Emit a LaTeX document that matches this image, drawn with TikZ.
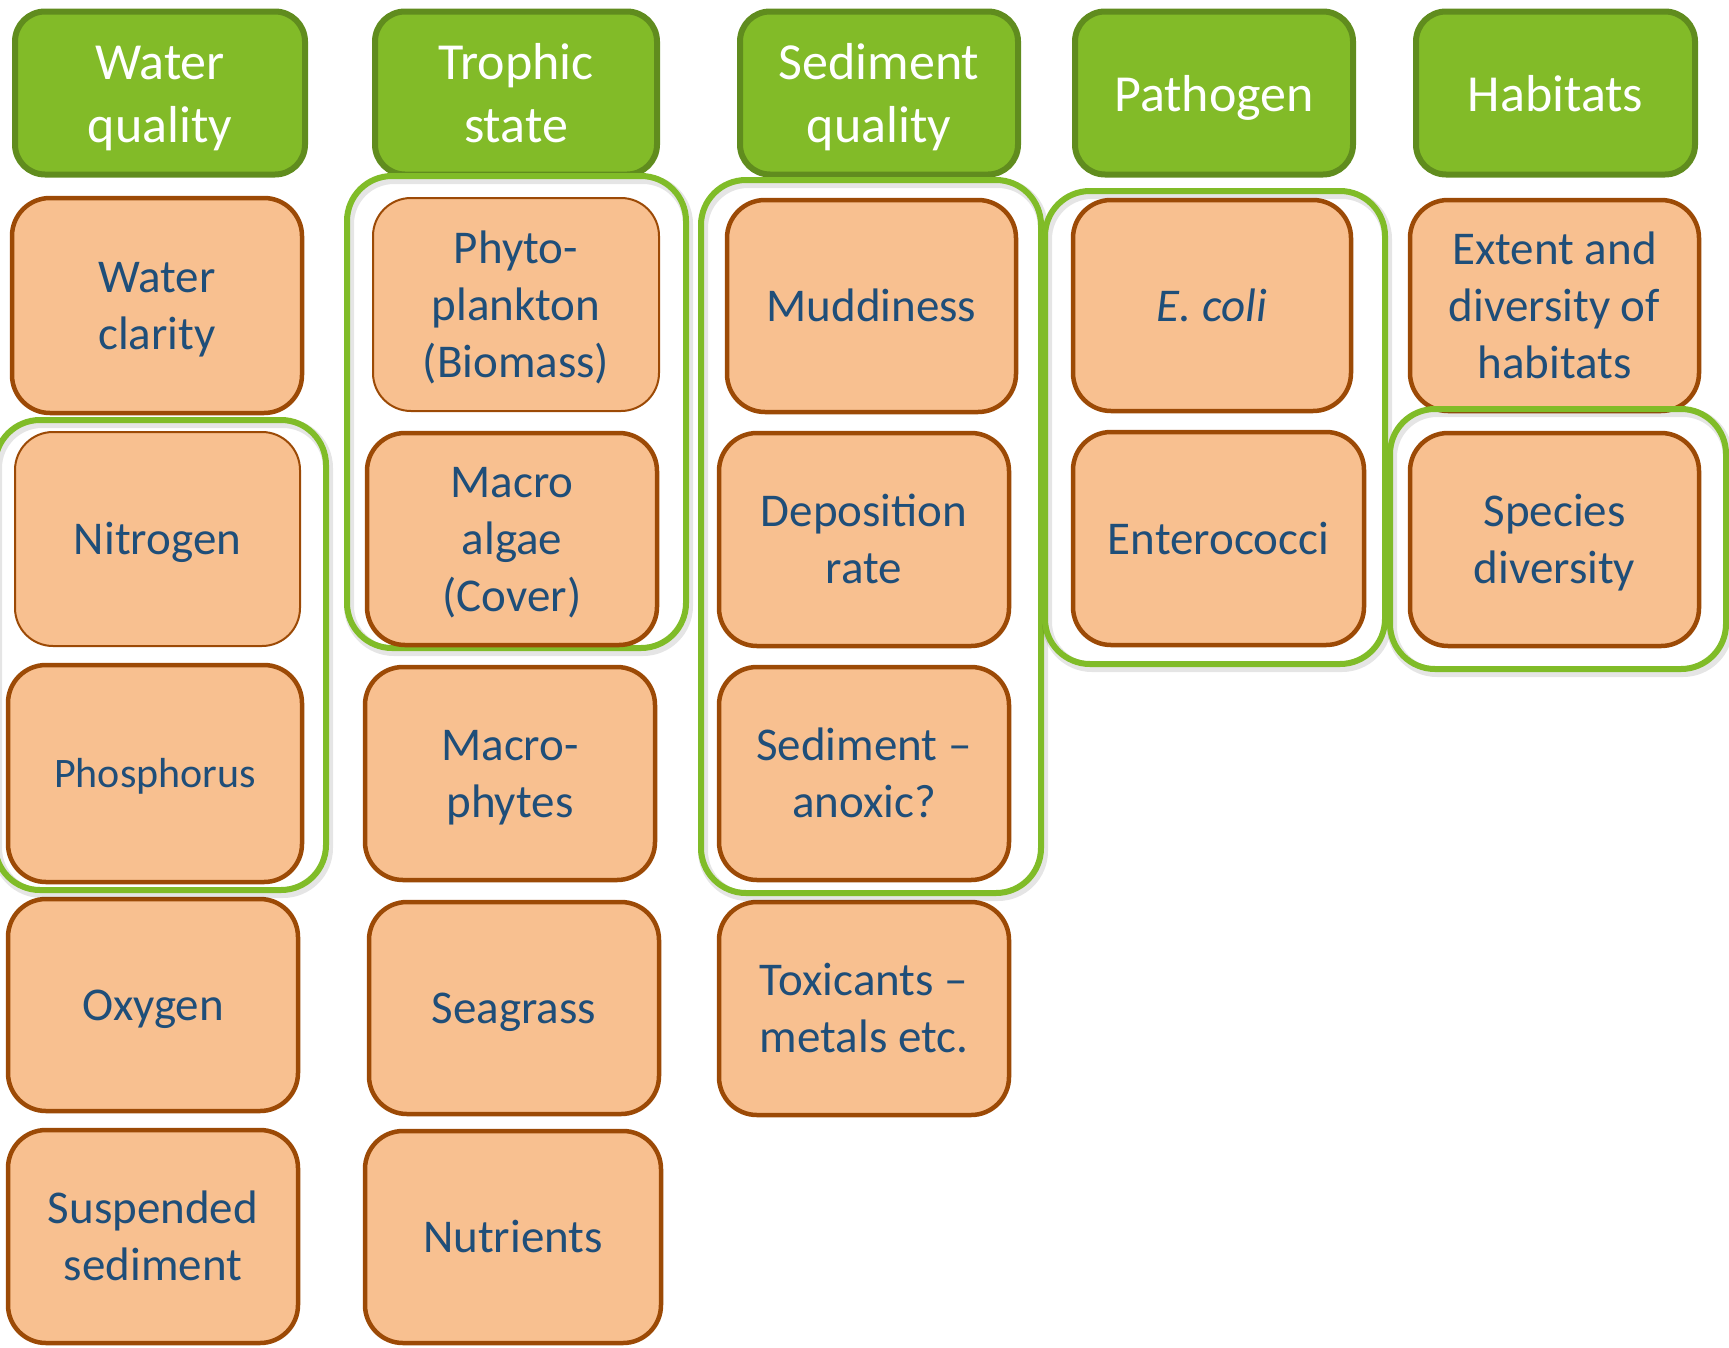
\documentclass[tikz,border=0pt]{standalone}
\usepackage{fontspec}
\setmainfont{Carlito}
\definecolor{hdrfill}{RGB}{130,187,40}
\definecolor{hdrline}{RGB}{96,140,30}
\definecolor{boxfill}{RGB}{248,192,144}
\definecolor{boxline}{RGB}{156,74,6}
\definecolor{txtblue}{RGB}{31,78,121}
\definecolor{grpline}{RGB}{128,188,40}
\newlength{\myTopExtra}
\newcommand{\tx}[1]{\rule{0pt}{\dimexpr0.7\baselineskip+\myTopExtra\relax}#1\strut}
\tikzset{
  topextra/.style={execute at begin node={\setlength{\myTopExtra}{#1}}},
  hdr/.style={draw=hdrline, fill=hdrfill, line width=6pt, rounded corners=30pt,
    text=white, align=center, inner sep=0pt, font=\fontsize{52}{63}\selectfont, topextra=11pt},
  ibox/.style={draw=boxline, fill=boxfill, line width=4.5pt, rounded corners=38pt,
    text=txtblue, align=center, inner sep=0pt, font=\fontsize{47}{57}\selectfont, topextra=9pt},
  thinbox/.style={ibox, line width=2pt},
  grp/.style={draw=grpline, line width=6pt, rounded corners=45pt, inner sep=0pt,
    preaction={draw=black, draw opacity=0.10, line width=10pt,
      transform canvas={xshift=2pt, yshift=-3pt}}},
  sz/.style 2 args={minimum width=#1pt, minimum height=#2pt},
}
\begin{document}
\begin{tikzpicture}[x=1pt,y=-1pt]
\useasboundingbox (0,0) rectangle (1729,1347);
% headers
\node[hdr, sz={290}{163}] (h1) at (160,93) {\tx{Water\\quality}};
\node[hdr, sz={282}{163}] (h2) at (516,93) {\tx{Trophic\\state}};
\node[hdr, sz={278}{163}] (h3) at (879,93) {\tx{Sediment\\quality}};
\node[hdr, sz={278}{163}] (h4) at (1214,93) {\tx{Pathogen}};
\node[hdr, sz={279}{163}] (h5) at (1555.5,93) {\tx{Habitats}};
% boxes outside groups
\node[ibox, sz={290}{215}] (wc) at (157,305.5) {\tx{Water\\clarity}};
\node[ibox, sz={290}{212}] (ox) at (153,1005) {\tx{Oxygen}};
\node[ibox, sz={290}{213}] (ss) at (153,1236.5) {\tx{Suspended\\sediment}};
\node[ibox, sz={290}{213}] (mp) at (510,773.5) {\tx{Macro-\\phytes}};
\node[ibox, sz={290}{212}] (sg) at (514,1008) {\tx{Seagrass}};
\node[ibox, sz={296}{212}] (nu) at (513,1237) {\tx{Nutrients}};
\node[ibox, sz={290}{213}] (tx) at (864,1008.5) {\tx{Toxicants –\\metals etc.}};
\node[ibox, sz={289}{211}] (ex) at (1554.5,305.5) {\tx{Extent and\\diversity of\\habitats}};
% groups
\node[grp, sz={331}{470}] (g1) at (160.5,655) {};
\node[grp, sz={339}{472}] (g2) at (516.5,412) {};
\node[grp, sz={340}{713}] (g3) at (871,536.5) {};
\node[grp, sz={340}{473}] (g4) at (1215,427.5) {};
\node[grp, sz={336}{260}] (g5) at (1558,539) {};
% boxes inside groups
\node[thinbox, sz={285}{214}] (ni) at (157.5,539) {\tx{Nitrogen}};
\node[ibox, sz={294}{217}, font=\fontsize{42}{51}\selectfont, topextra=8pt] (ph) at (155,773.5) {\tx{Phosphorus}};
\node[thinbox, sz={286}{213}] (pp) at (516,304.5) {\tx{Phyto-\\plankton\\(Biomass)}};
\node[ibox, sz={290}{212}] (ma) at (512,539) {\tx{Macro\\algae\\(Cover)}};
\node[ibox, sz={289}{212}] (mu) at (871.5,306) {\tx{Muddiness}};
\node[ibox, sz={290}{213}] (dr) at (864,539.5) {\tx{Deposition\\rate}};
\node[ibox, sz={290}{213}] (sa) at (864,773.5) {\tx{Sediment –\\anoxic?}};
\node[ibox, sz={278}{211}] (ec) at (1212,305.5) {\tx{\textit{E. coli}}};
\node[ibox, sz={291}{213}] (en) at (1218.5,538.5) {\tx{Enterococci}};
\node[ibox, sz={289}{213}] (sd) at (1554.5,539.5) {\tx{Species\\diversity}};
\end{tikzpicture}
\end{document}
